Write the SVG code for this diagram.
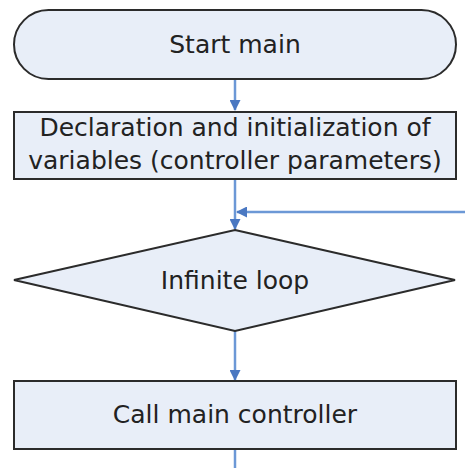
<svg xmlns="http://www.w3.org/2000/svg" width="465" height="468" viewBox="0 0 465 468">
<style>
.shape{fill:#e8eef8;stroke:#2b2b2b;stroke-width:2}
.lbl{font-family:"DejaVu Sans",Verdana,sans-serif;font-size:25px;fill:#222;text-anchor:middle}
.conn{stroke:#6c98d6;stroke-width:2.5;fill:none}
</style>
<defs>
<marker id="ah" markerWidth="11" markerHeight="11" refX="10" refY="5.5" orient="auto" markerUnits="userSpaceOnUse">
<path d="M0,0 L11,5.5 L0,11 Z" fill="#4a78c2"/>
</marker>
</defs>
<rect width="465" height="468" fill="#ffffff"/>
<g id="connectors">
<line class="conn" x1="235" y1="79" x2="235" y2="110" marker-end="url(#ah)"/>
<line class="conn" x1="235" y1="179" x2="235" y2="229" marker-end="url(#ah)"/>
<line class="conn" x1="465" y1="212" x2="237" y2="212" marker-end="url(#ah)"/>
<line class="conn" x1="235" y1="331" x2="235" y2="380" marker-end="url(#ah)"/>
<line class="conn" x1="235" y1="449" x2="235" y2="468"/>
</g>
<g id="start">
<rect class="shape" x="14" y="10" width="442" height="69" rx="34.5" ry="34.5"/>
<text class="lbl" x="235" y="53">Start main</text>
</g>
<g id="declare">
<rect class="shape" x="14" y="112" width="442" height="67"/>
<text class="lbl" x="235" y="136">Declaration and initialization of</text>
<text class="lbl" x="235" y="169">variables (controller parameters)</text>
</g>
<g id="loop">
<polygon class="shape" points="235,230 455,280 235,331 14,280"/>
<text class="lbl" x="235" y="289">Infinite loop</text>
</g>
<g id="call">
<rect class="shape" x="14" y="381" width="442" height="68"/>
<text class="lbl" x="235" y="423">Call main controller</text>
</g>
</svg>
